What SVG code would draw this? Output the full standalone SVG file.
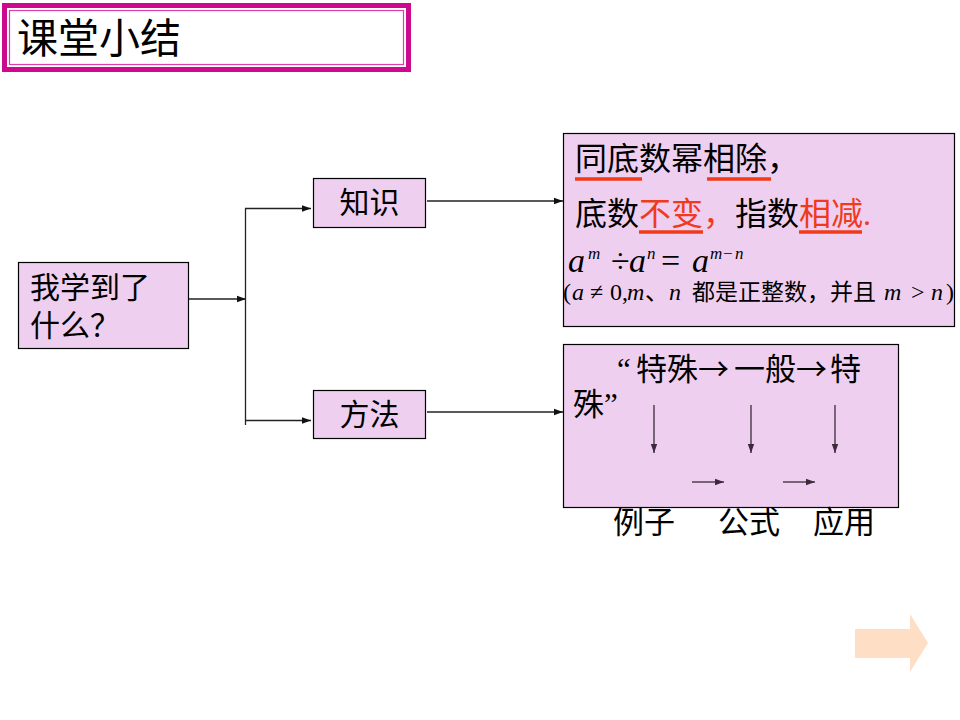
<svg xmlns="http://www.w3.org/2000/svg" width="960" height="720" viewBox="0 0 960 720">
<style>
.node{fill:#EFCFEF;stroke:#000;stroke-width:1.2}
.cjk{font-family:"Liberation Serif","Noto Sans CJK SC",serif;fill:#000}
.red{fill:#F03A1A}
.math{font-family:"Liberation Serif","Noto Sans CJK SC",serif;font-style:italic}
.up{font-family:"Liberation Serif","Noto Sans CJK SC",serif;font-style:normal}
.arr{font-family:"Noto Sans CJK SC",sans-serif}
.conn{stroke:#222;stroke-width:1.3;fill:none}
.ul{stroke:#F03A1A;stroke-width:3.5}
.marr{stroke:#3a2a3a;stroke-width:1.3;fill:none}
</style>
<defs>
<marker id="ah" markerWidth="10" markerHeight="8" refX="9" refY="4" orient="auto" markerUnits="userSpaceOnUse">
<path d="M0,0.8 L9,4 L0,7.2 Z" fill="#111"/>
</marker>
<marker id="ah2" markerWidth="10" markerHeight="8" refX="9" refY="4" orient="auto" markerUnits="userSpaceOnUse">
<path d="M0,0.8 L9,4 L0,7.2 Z" fill="#3a2a3a"/>
</marker>
</defs>
<rect width="960" height="720" fill="#fff"/>

<g id="title">
<rect x="4.5" y="5.5" width="404" height="64" fill="#fff" stroke="#CC0A8E" stroke-width="5"/>
<rect x="9.5" y="10.5" width="394" height="54" fill="#fff" stroke="#E23BAA" stroke-width="1.2"/>
<text class="cjk" x="17" y="53" font-size="41">课堂小结</text>
</g>

<g id="connectors">
<line class="conn" x1="188" y1="299" x2="246" y2="299" marker-end="url(#ah)"/>
<line class="conn" x1="245.5" y1="208.5" x2="245.5" y2="425"/>
<line class="conn" x1="245" y1="208.5" x2="311" y2="208.5" marker-end="url(#ah)"/>
<line class="conn" x1="245" y1="420.5" x2="311" y2="420.5" marker-end="url(#ah)"/>
<line class="conn" x1="427" y1="201" x2="563" y2="201" stroke="#555" marker-end="url(#ah)"/>
<line class="conn" x1="427" y1="412" x2="563" y2="412" stroke="#555" marker-end="url(#ah)"/>
</g>

<g id="node-q">
<rect class="node" x="18.5" y="262.5" width="170" height="86"/>
<text class="cjk" x="30" y="298" font-size="30">我学到了</text>
<text class="cjk" x="30" y="336" font-size="30">什么？</text>
</g>

<g id="node-knowledge">
<rect class="node" x="313.5" y="178.5" width="112" height="49"/>
<text class="cjk" x="369.5" y="213" font-size="30" text-anchor="middle">知识</text>
</g>

<g id="node-method">
<rect class="node" x="313.5" y="390.5" width="112" height="48"/>
<text class="cjk" x="369.5" y="425" font-size="30" text-anchor="middle">方法</text>
</g>

<g id="node-rule">
<rect class="node" x="563.5" y="133.5" width="391" height="193"/>
<text class="cjk" x="575" y="170" font-size="32">同底数幂相除，</text>
<line class="ul" x1="575" y1="179" x2="642" y2="179"/>
<line class="ul" x1="707" y1="179" x2="771" y2="179"/>
<text class="cjk" x="575" y="225" font-size="32">底数</text>
<text class="cjk red" x="639" y="225" font-size="32">不变，</text>
<text class="cjk" x="735" y="225" font-size="32">指数</text>
<text class="cjk red" x="799" y="225" font-size="32">相减.</text>
<line class="ul" x1="639" y1="232" x2="703" y2="232"/>
<line class="ul" x1="799" y1="232" x2="862" y2="232"/>
<text class="math" font-size="34" y="272"><tspan x="568">a</tspan><tspan class="up" x="611">÷</tspan><tspan x="629">a</tspan><tspan class="up" x="661">=</tspan><tspan x="692">a</tspan></text>
<text class="math" font-size="17" y="259"><tspan x="588">m</tspan><tspan x="647">n</tspan><tspan x="710">m</tspan><tspan class="up" x="723">−</tspan><tspan x="735">n</tspan></text>
<text class="math" font-size="24" y="300"><tspan class="up" x="563">(</tspan><tspan x="572">a</tspan><tspan class="up" x="590">≠</tspan><tspan class="up" x="610">0,</tspan><tspan x="627">m</tspan><tspan class="up" x="645">、</tspan><tspan x="669">n</tspan><tspan class="up" x="692" font-size="23">都是正整数，并且</tspan><tspan x="884">m</tspan><tspan class="up" x="911">&gt;</tspan><tspan x="931">n</tspan><tspan class="up" x="946">)</tspan></text>
</g>

<g id="node-process">
<rect class="node" x="563.5" y="344.5" width="335" height="163"/>
<text class="cjk" font-size="31" y="380"><tspan x="617">“</tspan><tspan x="636">特殊</tspan><tspan class="arr" x="698">→</tspan><tspan x="734">一般</tspan><tspan class="arr" x="796">→</tspan><tspan x="830">特</tspan></text>
<text class="cjk" font-size="31" y="415"><tspan x="573">殊</tspan><tspan x="604">”</tspan></text>
<line class="marr" x1="654" y1="405" x2="654" y2="453" marker-end="url(#ah2)"/>
<line class="marr" x1="751" y1="405" x2="751" y2="453" marker-end="url(#ah2)"/>
<line class="marr" x1="835" y1="405" x2="835" y2="453" marker-end="url(#ah2)"/>
<line class="marr" x1="692" y1="482" x2="724" y2="482" marker-end="url(#ah2)"/>
<line class="marr" x1="783" y1="482" x2="815" y2="482" marker-end="url(#ah2)"/>
<text class="cjk" x="613" y="533" font-size="31">例子</text>
<text class="cjk" x="718" y="533" font-size="31">公式</text>
<text class="cjk" x="813" y="533" font-size="31">应用</text>
</g>

<g id="next-arrow">
<polygon points="855,629 910,629 910,614 928,643 910,672 910,658 855,658" fill="#FFDEC6"/>
</g>
</svg>
